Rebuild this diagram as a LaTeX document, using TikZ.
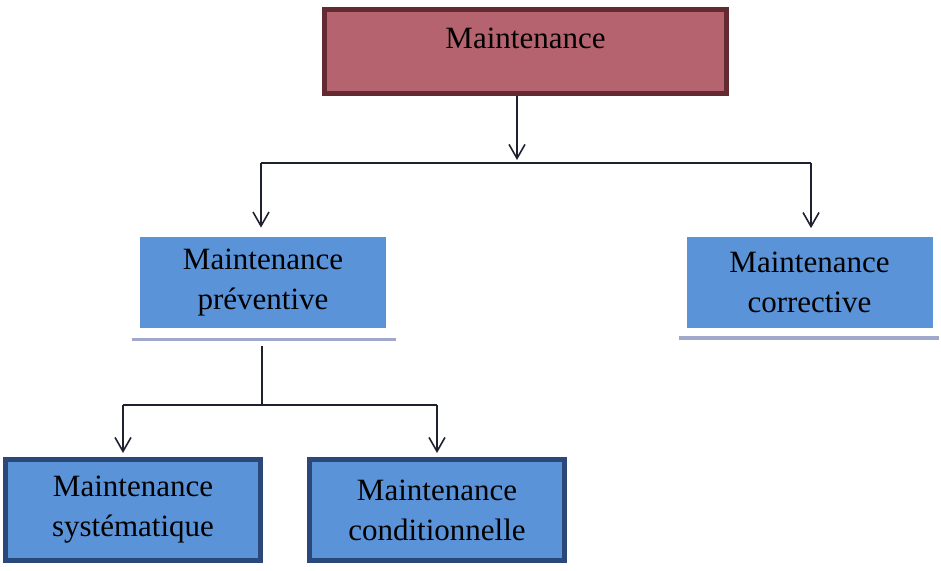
\documentclass[tikz,border=0pt]{standalone}
\usepackage{fontspec}
\setmainfont{Liberation Serif}
\usetikzlibrary{positioning, arrows.meta, calc}
\definecolor{rosefill}{RGB}{181,99,111}
\definecolor{roseline}{RGB}{99,42,50}
\definecolor{bluefill}{RGB}{91,147,217}
\definecolor{blueline}{RGB}{42,72,122}
\definecolor{rulecol}{RGB}{160,168,204}
\definecolor{wirecol}{RGB}{30,34,48}

\begin{document}
\begin{tikzpicture}[
  x=0.5pt, y=-0.5pt,
  >={Straight Barb[length=7pt, width=8pt]},
  every node/.style={font=\fontsize{15.5}{20}\selectfont, align=center, text=black},
  topbox/.style  = {draw=roseline, line width=2.5pt, fill=rosefill, minimum width=201pt,
                    inner ysep=0pt, text height=19.5pt, text depth=22.5pt},
  midbox/.style  = {fill=bluefill, minimum width=123pt, minimum height=45.5pt, inner sep=0pt},
  lowbox/.style  = {draw=blueline, line width=2.5pt, fill=bluefill, minimum width=127.5pt,
                    minimum height=50.5pt, inner sep=0pt},
  wire/.style    = {wirecol, line width=0.8pt},
  arr/.style     = {->, wirecol, line width=0.8pt},
  underrule/.style = {rulecol, line width=1.6pt},
]
  \useasboundingbox (0,0) rectangle (941,570);
  % boxes
  \node[topbox] (main) at (525.5,51.5) {Maintenance};
  \node[midbox] (prev) at (263,282.5)  {Maintenance\\préventive};
  \node[midbox] (corr) at (809.5,282)  {Maintenance\\corrective};
  \node[lowbox] (syst) at (133,510)    {Maintenance\\systématique};
  \node[lowbox] (cond) at (437,510)    {Maintenance\\conditionnelle};
  % junction points
  \coordinate (jt) at (517,163);
  \coordinate (jl) at (261,163);
  \coordinate (jr) at (811,163);
  \coordinate (jm) at (262,346);
  \coordinate (jb) at (262,405);
  \coordinate (jbl) at (123,405);
  \coordinate (jbr) at (437,405);
  % rules under the middle boxes
  \draw[underrule] ($(prev.south west)+(-8,11)$) -- ($(prev.south east)+(10,11)$);
  \draw[underrule] ($(corr.south west)+(-7,10)$) -- ($(corr.south east)+(6,10)$);
  % connectors
  \draw[arr, shorten >=1.5pt] (main.south -| jt) -- (jt);
  \draw[wire] (jl) -- (jr);
  \draw[arr, shorten >=4.5pt] (jl) -- (jl |- prev.north);
  \draw[arr, shorten >=4pt] (jr) -- (jr |- corr.north);
  \draw[wire] (jm) -- (jb);
  \draw[wire] (jbl) -- (jbr);
  \draw[arr, shorten >=2pt] (jbl) -- (jbl |- syst.north);
  \draw[arr, shorten >=2pt] (jbr) -- (cond.north);
\end{tikzpicture}
\end{document}
